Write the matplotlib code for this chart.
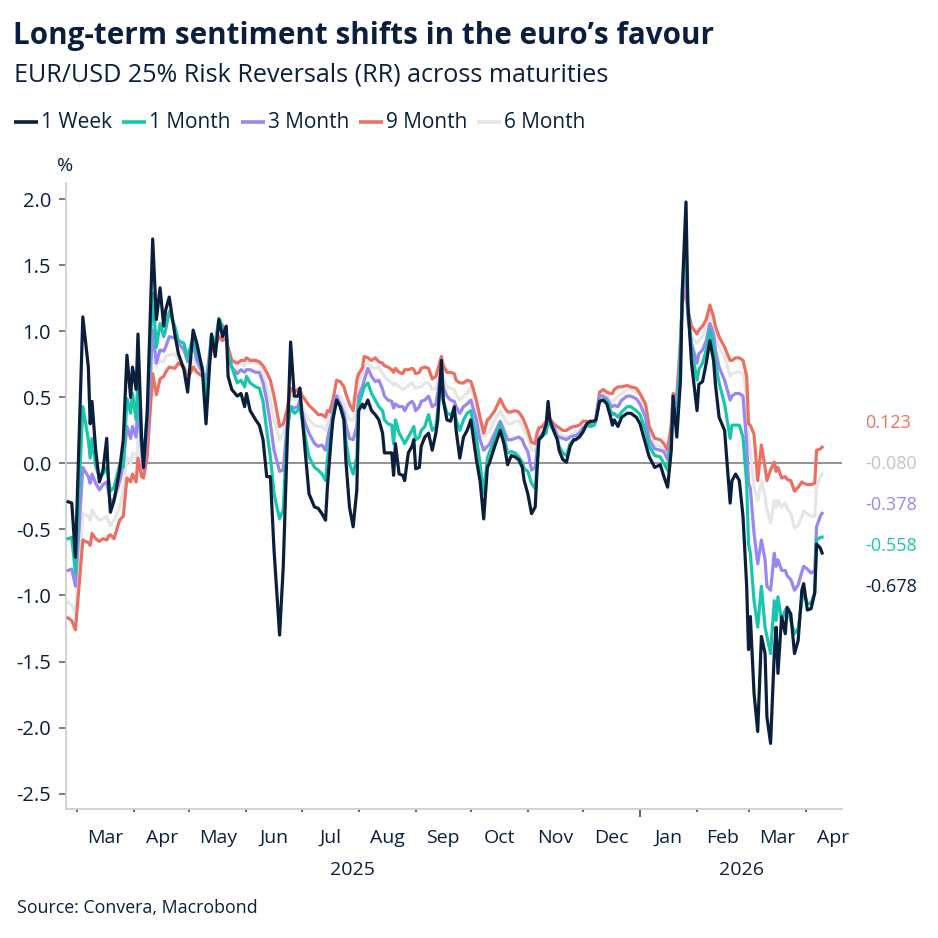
import matplotlib
matplotlib.use("Agg")
import matplotlib.pyplot as plt
import matplotlib.transforms as mtransforms
from matplotlib.lines import Line2D
import numpy as np
import pandas as pd

plt.rcParams['font.family'] = ['Open Sans', 'DejaVu Sans']
plt.rcParams['axes.unicode_minus'] = False

# ---------------- data ----------------
dates = [
    # Feb-Jun 2025
    "2025-02-24", "2025-02-26", "2025-02-28", "2025-03-04", "2025-03-07", "2025-03-08", "2025-03-09",
    "2025-03-11", "2025-03-13", "2025-03-15", "2025-03-17", "2025-03-18", "2025-03-19", "2025-03-21",
    "2025-03-24", "2025-03-26", "2025-03-28", "2025-03-30", "2025-03-31", "2025-04-02", "2025-04-03",
    "2025-04-05", "2025-04-06", "2025-04-08", "2025-04-11", "2025-04-13", "2025-04-15", "2025-04-17",
    "2025-04-18", "2025-04-20", "2025-04-23", "2025-04-25", "2025-04-28", "2025-04-30", "2025-05-03",
    "2025-05-05", "2025-05-08", "2025-05-10", "2025-05-13", "2025-05-15", "2025-05-17", "2025-05-19",
    "2025-05-21", "2025-05-22", "2025-05-24", "2025-05-27", "2025-05-29", "2025-05-31", "2025-06-01",
    "2025-06-03", "2025-06-06", "2025-06-08",
    # Jun-Sep 2025
    "2025-06-10", "2025-06-12", "2025-06-14", "2025-06-16", "2025-06-19", "2025-06-21", "2025-06-23",
    "2025-06-25", "2025-06-27", "2025-06-29", "2025-06-30", "2025-07-01", "2025-07-03", "2025-07-05",
    "2025-07-08", "2025-07-10", "2025-07-12", "2025-07-14", "2025-07-15", "2025-07-16", "2025-07-17",
    "2025-07-18", "2025-07-20", "2025-07-22", "2025-07-24", "2025-07-25", "2025-07-27", "2025-07-29",
    "2025-07-31", "2025-08-01", "2025-08-03", "2025-08-04", "2025-08-06", "2025-08-08", "2025-08-10",
    "2025-08-12", "2025-08-14", "2025-08-15", "2025-08-17", "2025-08-19", "2025-08-20", "2025-08-21",
    "2025-08-23", "2025-08-25", "2025-08-26", "2025-08-28", "2025-08-30", "2025-08-31", "2025-09-01",
    "2025-09-03", "2025-09-04", "2025-09-06", "2025-09-08", "2025-09-10", "2025-09-12", "2025-09-13",
    "2025-09-15", "2025-09-16", "2025-09-18", "2025-09-20", "2025-09-22", "2025-09-23", "2025-09-25",
    "2025-09-27", "2025-09-29",
    # Oct 2025 - Jan 2026
    "2025-10-01", "2025-10-02", "2025-10-04", "2025-10-06", "2025-10-08", "2025-10-10", "2025-10-11",
    "2025-10-14", "2025-10-17", "2025-10-19", "2025-10-21", "2025-10-23", "2025-10-25", "2025-10-27",
    "2025-10-29", "2025-10-30", "2025-11-01", "2025-11-03", "2025-11-05", "2025-11-06", "2025-11-07",
    "2025-11-09", "2025-11-11", "2025-11-12", "2025-11-13", "2025-11-15", "2025-11-17", "2025-11-18",
    "2025-11-20", "2025-11-22", "2025-11-24", "2025-11-26", "2025-11-27", "2025-11-29", "2025-12-01",
    "2025-12-03", "2025-12-05", "2025-12-07", "2025-12-08", "2025-12-10", "2025-12-12", "2025-12-14",
    "2025-12-16", "2025-12-17", "2025-12-18", "2025-12-20", "2025-12-22", "2025-12-25", "2025-12-27",
    "2025-12-30", "2026-01-01", "2026-01-04", "2026-01-06",
    # Jan-Feb 2026
    "2026-01-09", "2026-01-12", "2026-01-14", "2026-01-16", "2026-01-18", "2026-01-19", "2026-01-21",
    "2026-01-23", "2026-01-24", "2026-01-26", "2026-01-27", "2026-01-29", "2026-02-01", "2026-02-02",
    "2026-02-04", "2026-02-06", "2026-02-08", "2026-02-10", "2026-02-11", "2026-02-13", "2026-02-16",
    # Feb-Apr 2026
    "2026-02-19", "2026-02-20", "2026-02-22", "2026-02-24", "2026-02-26", "2026-02-28", "2026-03-01",
    "2026-03-02", "2026-03-04", "2026-03-06", "2026-03-08", "2026-03-10", "2026-03-11", "2026-03-13",
    "2026-03-15", "2026-03-16", "2026-03-17", "2026-03-19", "2026-03-21", "2026-03-22", "2026-03-24",
    "2026-03-26", "2026-03-28", "2026-03-30", "2026-03-31", "2026-04-02", "2026-04-04", "2026-04-06",
    "2026-04-07", "2026-04-09", "2026-04-10",
]

rr_1w = [
    -0.29, -0.30, -0.71, 1.11, 0.73, 0.30, 0.47, 0.10, -0.14, -0.05, 0.19, -0.15, -0.37, -0.28, -0.05, 0.18,
    0.82, 0.50, 0.73, 0.56, 0.98, 0.18, -0.03, 0.38, 1.70, 1.09, 1.33, 1.04, 1.16, 1.26, 0.98, 0.83, 0.71,
    0.54, 1.01, 0.91, 0.71, 0.30, 0.98, 0.81, 1.09, 0.96, 1.04, 0.66, 0.56, 0.51, 0.53, 0.43, 0.53, 0.40,
    0.33, 0.29,
    0.18, -0.10, -0.10, -0.66, -1.30, -0.78, 0.10, 0.92, 0.51, 0.51, 0.57, 0.40, 0.08, -0.23, -0.33, -0.34,
    -0.38, -0.43, -0.18, 0.00, 0.18, 0.33, 0.48, 0.43, 0.33, 0.03, -0.33, -0.48, -0.20, 0.40, 0.45, 0.42,
    0.48, 0.40, 0.37, 0.33, 0.23, 0.08, 0.08, 0.08, -0.09, 0.15, -0.08, -0.09, -0.13, 0.08, 0.13, 0.18,
    -0.04, -0.03, 0.13, 0.20, 0.23, 0.10, 0.23, 0.33, 0.78, 0.48, 0.33, 0.32, 0.43, 0.25, 0.04, 0.20, 0.25,
    0.33, 0.23, 0.03, -0.13, -0.42, -0.03, 0.00, 0.13, 0.25, 0.15, -0.01, 0.06, 0.05, 0.03, -0.03, -0.13,
    -0.23, -0.38, -0.33, -0.05, 0.18, 0.21, 0.30, 0.47, 0.33, 0.25, 0.18, 0.10, 0.03, 0.01, 0.13, 0.18,
    0.18, 0.20, 0.24, 0.30, 0.32, 0.32, 0.33, 0.47, 0.48, 0.45, 0.35, 0.29, 0.33, 0.28, 0.35, 0.38, 0.38,
    0.35, 0.30, 0.15, 0.05,
    -0.03, -0.01, -0.10, -0.18, 0.10, 0.51, 0.20, 0.63, 1.31, 1.98, 1.21, 0.76, 0.40, 0.60, 0.62, 0.76,
    0.93, 0.78, 0.60, 0.35, 0.25,
    -0.30, -0.13, -0.08, -0.13, -0.40, -0.93, -1.41, -1.16, -1.74, -2.03, -1.31, -1.44, -1.92, -2.12, -1.44,
    -1.24, -1.59, -1.16, -1.29, -1.09, -1.14, -1.44, -1.34, -0.96, -0.91, -1.11, -1.10, -0.98, -0.61, -0.64,
    -0.678,
]

rr_1m = [
    -0.57, -0.56, -0.83, 0.43, 0.18, 0.04, 0.19, -0.02, -0.10, -0.08, -0.03, -0.12, -0.21, -0.18, -0.01,
    -0.03, 0.49, 0.38, 0.53, 0.33, 0.67, 0.15, 0.03, 0.38, 1.29, 0.88, 1.06, 0.96, 1.01, 1.15, 1.04, 0.93,
    0.91, 0.80, 0.96, 0.83, 0.73, 0.48, 0.97, 0.91, 1.10, 1.04, 1.01, 0.83, 0.73, 0.61, 0.63, 0.58, 0.66,
    0.61, 0.58, 0.57,
    0.47, 0.25, 0.05, -0.23, -0.42, -0.35, 0.23, 0.43, 0.38, 0.40, 0.44, 0.35, 0.20, 0.05, -0.03, -0.05,
    -0.08, -0.13, 0.03, 0.13, 0.23, 0.35, 0.48, 0.43, 0.33, 0.18, 0.00, -0.08, 0.05, 0.45, 0.53, 0.58,
    0.61, 0.53, 0.48, 0.43, 0.40, 0.33, 0.30, 0.29, 0.15, 0.33, 0.23, 0.18, 0.15, 0.20, 0.25, 0.28, 0.18,
    0.20, 0.25, 0.28, 0.37, 0.25, 0.28, 0.40, 0.71, 0.48, 0.38, 0.37, 0.40, 0.33, 0.25, 0.33, 0.38,
    0.40, 0.33, 0.20, 0.00, -0.23, 0.04, 0.08, 0.18, 0.30, 0.20, 0.08, 0.09, 0.08, 0.05, 0.01, -0.04,
    -0.06, -0.15, -0.19, 0.00, 0.18, 0.21, 0.23, 0.33, 0.30, 0.25, 0.19, 0.13, 0.08, 0.06, 0.15, 0.18,
    0.18, 0.20, 0.24, 0.29, 0.28, 0.29, 0.32, 0.48, 0.48, 0.48, 0.40, 0.37, 0.38, 0.35, 0.39, 0.43, 0.43,
    0.40, 0.37, 0.25, 0.13,
    0.06, 0.05, 0.00, -0.05, 0.15, 0.45, 0.33, 0.81, 1.31, 1.69, 1.19, 0.86, 0.63, 0.71, 0.76, 0.86, 1.01,
    0.88, 0.76, 0.61, 0.45,
    0.19, 0.29, 0.29, 0.29, 0.20, -0.15, -0.61, -0.68, -1.04, -1.24, -0.93, -1.24, -1.31, -1.44, -1.04,
    -1.19, -1.01, -1.19, -1.11, -1.09, -1.19, -1.29, -1.25, -1.04, -0.98, -1.06, -1.06, -0.98, -0.58, -0.56,
    -0.558,
]

rr_3m = [
    -0.81, -0.80, -0.93, -0.03, -0.10, -0.15, -0.08, -0.15, -0.20, -0.16, -0.14, -0.22, -0.29, -0.27, -0.14,
    0.00, 0.28, 0.19, 0.28, 0.20, 0.45, 0.10, -0.05, 0.23, 1.01, 0.76, 0.86, 0.85, 0.88, 0.96, 0.95, 0.91,
    0.86, 0.77, 0.90, 0.78, 0.69, 0.62, 0.96, 0.91, 1.06, 1.04, 0.96, 0.81, 0.73, 0.68, 0.71, 0.69, 0.71,
    0.71, 0.69, 0.69,
    0.61, 0.48, 0.30, 0.10, -0.06, -0.05, 0.28, 0.43, 0.42, 0.43, 0.48, 0.40, 0.30, 0.23, 0.15, 0.13, 0.14,
    0.10, 0.18, 0.25, 0.30, 0.40, 0.51, 0.45, 0.38, 0.30, 0.19, 0.18, 0.28, 0.51, 0.58, 0.63, 0.72, 0.66,
    0.62, 0.63, 0.56, 0.51, 0.48, 0.47, 0.42, 0.45, 0.43, 0.43, 0.40, 0.45, 0.47, 0.45, 0.40, 0.43, 0.47,
    0.48, 0.51, 0.43, 0.45, 0.53, 0.73, 0.58, 0.51, 0.48, 0.47, 0.43, 0.38, 0.43, 0.45,
    0.48, 0.43, 0.33, 0.18, 0.10, 0.13, 0.14, 0.23, 0.32, 0.25, 0.18, 0.18, 0.19, 0.20, 0.18, 0.14, 0.09,
    -0.05, -0.03, 0.10, 0.19, 0.23, 0.25, 0.33, 0.32, 0.28, 0.21, 0.20, 0.19, 0.18, 0.20, 0.21, 0.21, 0.23,
    0.27, 0.29, 0.28, 0.29, 0.33, 0.51, 0.51, 0.49, 0.44, 0.43, 0.44, 0.43, 0.48, 0.51, 0.51, 0.49, 0.45,
    0.35, 0.18,
    0.11, 0.10, 0.09, 0.03, 0.20, 0.51, 0.45, 0.88, 1.26, 1.41, 1.11, 0.91, 0.76, 0.83, 0.86, 0.93, 1.06,
    0.98, 0.86, 0.73, 0.63,
    0.48, 0.51, 0.53, 0.53, 0.51, 0.15, -0.15, -0.19, -0.53, -0.76, -0.58, -0.73, -0.93, -0.96, -0.68,
    -0.78, -0.73, -0.81, -0.81, -0.85, -0.88, -0.96, -0.92, -0.82, -0.78, -0.80, -0.83, -0.81, -0.48, -0.40,
    -0.378,
]

rr_9m = [
    -1.17, -1.19, -1.26, -0.58, -0.60, -0.62, -0.53, -0.57, -0.59, -0.57, -0.58, -0.55, -0.54, -0.57, -0.43,
    -0.40, -0.11, -0.14, -0.08, -0.14, 0.04, -0.10, -0.11, 0.05, 0.68, 0.52, 0.64, 0.66, 0.69, 0.73, 0.72,
    0.76, 0.73, 0.64, 0.73, 0.69, 0.66, 0.63, 0.86, 0.88, 0.96, 0.93, 0.95, 0.88, 0.78, 0.76, 0.78, 0.78,
    0.80, 0.78, 0.78, 0.77,
    0.74, 0.69, 0.63, 0.51, 0.28, 0.30, 0.40, 0.57, 0.54, 0.56, 0.57, 0.52, 0.48, 0.44, 0.40, 0.37, 0.37,
    0.35, 0.40, 0.39, 0.43, 0.48, 0.63, 0.62, 0.58, 0.53, 0.45, 0.40, 0.63, 0.68, 0.72, 0.81, 0.80, 0.78,
    0.80, 0.77, 0.76, 0.74, 0.73, 0.71, 0.69, 0.72, 0.69, 0.68, 0.71, 0.71, 0.72, 0.71, 0.68, 0.69, 0.72,
    0.73, 0.72, 0.64, 0.66, 0.71, 0.81, 0.74, 0.69, 0.69, 0.68, 0.63, 0.61, 0.61, 0.63,
    0.62, 0.58, 0.48, 0.35, 0.23, 0.33, 0.34, 0.40, 0.49, 0.43, 0.39, 0.39, 0.40, 0.39, 0.35, 0.32, 0.25,
    0.16, 0.15, 0.23, 0.27, 0.28, 0.32, 0.35, 0.34, 0.30, 0.28, 0.27, 0.25, 0.25, 0.27, 0.28, 0.28, 0.29,
    0.32, 0.32, 0.30, 0.32, 0.34, 0.54, 0.56, 0.54, 0.53, 0.53, 0.56, 0.58, 0.58, 0.59, 0.58, 0.57, 0.53,
    0.45, 0.28,
    0.19, 0.18, 0.15, 0.10, 0.30, 0.53, 0.51, 0.93, 1.21, 1.34, 1.16, 1.04, 0.98, 1.01, 1.04, 1.09, 1.20,
    1.11, 1.04, 0.96, 0.88,
    0.78, 0.78, 0.80, 0.80, 0.78, 0.66, 0.30, 0.29, 0.22, -0.13, 0.14, -0.03, -0.13, -0.05, 0.01, -0.06,
    -0.03, -0.11, -0.10, -0.12, -0.13, -0.21, -0.18, -0.14, -0.15, -0.16, -0.16, -0.15, 0.10, 0.11, 0.123,
]

rr_6m = [
    -1.05, -1.07, -1.14, -0.38, -0.40, -0.43, -0.35, -0.40, -0.43, -0.42, -0.40, -0.44, -0.47, -0.43, -0.34,
    -0.20, 0.05, 0.00, 0.08, 0.03, 0.18, -0.03, -0.03, 0.13, 0.86, 0.73, 0.78, 0.77, 0.81, 0.82, 0.83, 0.78,
    0.74, 0.68, 0.80, 0.72, 0.68, 0.58, 0.91, 0.88, 1.01, 0.98, 0.96, 0.83, 0.78, 0.74, 0.76, 0.74, 0.76,
    0.77, 0.76, 0.76,
    0.68, 0.58, 0.48, 0.33, 0.18, 0.23, 0.38, 0.51, 0.48, 0.49, 0.52, 0.45, 0.38, 0.33, 0.29, 0.28, 0.28,
    0.25, 0.30, 0.35, 0.38, 0.44, 0.53, 0.51, 0.45, 0.40, 0.33, 0.33, 0.40, 0.61, 0.68, 0.73, 0.77, 0.73,
    0.72, 0.73, 0.68, 0.66, 0.63, 0.61, 0.59, 0.61, 0.58, 0.56, 0.57, 0.59, 0.61, 0.59, 0.57, 0.58, 0.58,
    0.61, 0.61, 0.56, 0.57, 0.63, 0.74, 0.66, 0.58, 0.57, 0.56, 0.52, 0.48, 0.51, 0.53,
    0.58, 0.53, 0.43, 0.30, 0.20, 0.23, 0.24, 0.33, 0.40, 0.35, 0.30, 0.30, 0.32, 0.32, 0.29, 0.25, 0.20,
    0.10, 0.10, 0.18, 0.24, 0.27, 0.29, 0.34, 0.33, 0.29, 0.25, 0.23, 0.21, 0.20, 0.21, 0.23, 0.24, 0.24,
    0.28, 0.30, 0.29, 0.30, 0.34, 0.52, 0.53, 0.52, 0.48, 0.47, 0.48, 0.51, 0.53, 0.56, 0.56, 0.54, 0.52,
    0.43, 0.23,
    0.14, 0.13, 0.11, 0.08, 0.25, 0.53, 0.51, 0.91, 1.24, 1.36, 1.16, 0.96, 0.91, 0.93, 0.96, 1.04, 1.14,
    1.04, 0.96, 0.88, 0.81,
    0.66, 0.68, 0.69, 0.69, 0.68, 0.51, 0.20, 0.10, -0.18, -0.28, -0.13, -0.25, -0.35, -0.45, -0.28, -0.33,
    -0.28, -0.33, -0.30, -0.34, -0.38, -0.49, -0.47, -0.40, -0.36, -0.38, -0.40, -0.40, -0.18, -0.10, -0.080,
]

series_labels = ["1 Week", "1 Month", "3 Month", "9 Month", "6 Month"]
series_values = [rr_1w, rr_1m, rr_3m, rr_9m, rr_6m]
series_colors = ["#0b1f3d", "#19c6ad", "#9a87f2", "#ec7062", "#e6e6e6"]
label_colors = ["#0b1f3d", "#19c6ad", "#9a87f2", "#ec7062", "#c4c4c4"]

yticks = [-2.5, -2.0, -1.5, -1.0, -0.5, 0.0, 0.5, 1.0, 1.5, 2.0]
month_names = ["Jan", "Feb", "Mar", "Apr", "May", "Jun", "Jul", "Aug", "Sep", "Oct", "Nov", "Dec"]

title = "Long-term sentiment shifts in the euro\u2019s favour"
subtitle = "EUR/USD 25% Risk Reversals (RR) across maturities"
source = "Source: Convera, Macrobond"

TEXT = "#0b1f3d"

# ---------------- figure ----------------
W = H = 938
fig = plt.figure(figsize=(W / 100, H / 100), dpi=100)
fx = lambda px: px / W
fy = lambda py: 1 - py / H

ax_l, ax_r, ax_t, ax_b = 65.5, 842, 183, 809
ax = fig.add_axes([fx(ax_l), fy(ax_b), (ax_r - ax_l) / W, (ax_b - ax_t) / H])

x = pd.to_datetime(dates)
for vals, col in list(zip(series_values, series_colors))[::-1]:
    ax.plot(x, vals, color=col, lw=2.3, solid_joinstyle="round", zorder=3)

ax.axhline(0, color="#8a8a8a", lw=1.3, zorder=2)

xmin = pd.Timestamp("2025-02-22 14:00")
xmax = pd.Timestamp("2026-04-20 20:00")
ax.set_xlim(xmin, xmax)
ax.set_ylim(-2.617, 2.124)

for s in ["top", "right"]:
    ax.spines[s].set_visible(False)
for s in ["left", "bottom"]:
    ax.spines[s].set_color("#cfcfcf")
    ax.spines[s].set_linewidth(1.3)

ax.set_yticks(yticks)
ax.set_yticklabels([f"{v:.1f}" for v in yticks])
ax.tick_params(axis="y", length=5, width=1.2, color="#666666", pad=5.5,
               labelsize=14.5, labelcolor=TEXT)

month_starts = pd.date_range("2025-03-01", "2026-04-01", freq="MS")
ax.set_xticks([pd.Timestamp("2026-01-01")])
ax.set_xticks(month_starts, minor=True)
ax.tick_params(axis="x", which="major", length=6, width=1.3, color="#555555", labelbottom=False)
ax.tick_params(axis="x", which="minor", length=2.5, width=1.3, color="#555555", labelbottom=False)

trans = mtransforms.blended_transform_factory(ax.transData, ax.transAxes)
all_starts = pd.date_range("2025-02-01", "2026-05-01", freq="MS")
for a, b in zip(all_starts[:-1], all_starts[1:]):
    mid = a + (b - a) / 2
    if xmin < mid < xmax:
        ax.text(mid, -0.046, month_names[a.month - 1], transform=trans, ha="center", va="center",
                fontsize=14, color=TEXT)
for yr in [2025, 2026]:
    lo = max(xmin, pd.Timestamp(f"{yr}-01-01"))
    hi = min(xmax, pd.Timestamp(f"{yr + 1}-01-01"))
    ax.text(lo + (hi - lo) / 2, -0.097, str(yr), transform=trans, ha="center", va="center",
            fontsize=14, color=TEXT)

# end-of-series value labels, spread vertically around their mean
last_vals = [v[-1] for v in series_values]
order = np.argsort(last_vals)[::-1]
spacing = 0.31
center = float(np.mean(last_vals))
n = len(last_vals)
etrans = mtransforms.blended_transform_factory(fig.transFigure, ax.transData)
for rank, idx in enumerate(order):
    ypos = center + spacing * ((n - 1) / 2 - rank)
    ax.text(fx(865), ypos, f"{last_vals[idx]:.3f}", transform=etrans, ha="left", va="center",
            fontsize=13, color=label_colors[idx], clip_on=False)

# titles
fig.text(fx(13), fy(36), title, fontsize=21.3, fontweight="bold", color=TEXT, ha="left", va="center")
fig.text(fx(14), fy(75), subtitle, fontsize=18.1, color=TEXT, ha="left", va="center")
fig.text(fx(65), fy(166), "%", fontsize=14, color=TEXT, ha="center", va="center")
fig.text(fx(17), fy(908), source, fontsize=12.8, color=TEXT, ha="left", va="center")

# legend row
renderer = fig.canvas.get_renderer()
lx = 14
ly = fy(122)
for lab, col in zip(series_labels, series_colors):
    fig.add_artist(Line2D([fx(lx), fx(lx + 24)], [ly, ly], color=col, lw=2.6,
                          solid_capstyle="butt", transform=fig.transFigure))
    t = fig.text(fx(lx + 27), ly, lab, fontsize=15.0, color=TEXT, ha="left", va="center")
    bb = t.get_window_extent(renderer)
    lx = bb.x1 + 10

fig.savefig("out.png", dpi=100)
